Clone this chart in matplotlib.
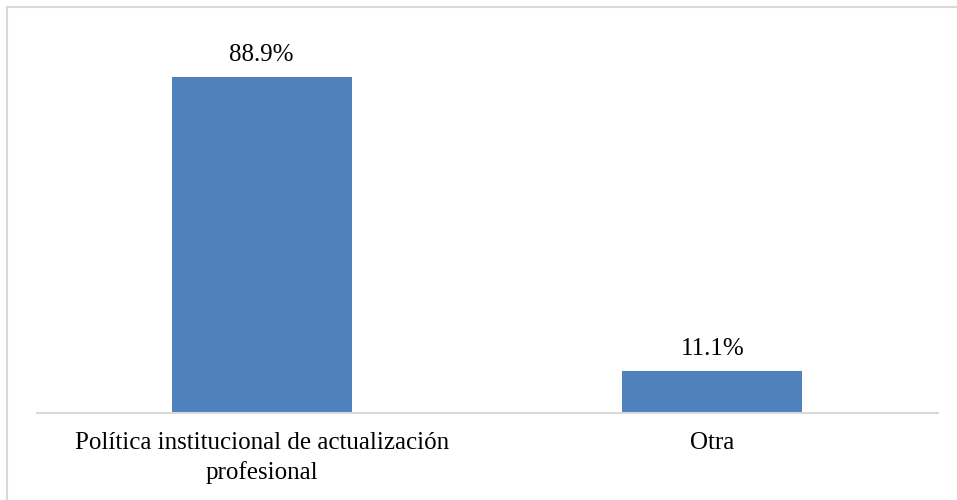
import matplotlib
matplotlib.use("Agg")
import matplotlib.pyplot as plt
from matplotlib.patches import Rectangle

categories = ["Política institucional de actualización\nprofesional", "Otra"]
values = [88.9, 11.1]
value_labels = ["88.9%", "11.1%"]

W, H = 957, 500
fig = plt.figure(figsize=(W / 100, H / 100), dpi=100)
plt.rcParams['font.family'] = ['Liberation Serif', 'DejaVu Serif']

# outer chart border (cropped at right/bottom like the reference)
fig.patches.append(Rectangle((7 / W, -0.1), 2.0, (H - 6.5) / H + 0.1, transform=fig.transFigure,
                             fill=False, edgecolor="#D9D9D9", linewidth=1.5))

left, right, bottom, top = 36.5, 937.5, 413, 35.4
ax = fig.add_axes([left / W, 1 - bottom / H, (right - left) / W, (bottom - top) / H])
x = range(len(categories))
ax.bar(x, values, width=0.4, color="#4F81BD")
ax.set_xlim(-0.5, 1.5)
ax.set_ylim(0, 100)
for xi, v, lab in zip(x, values, value_labels):
    ax.annotate(lab, (xi, v), xytext=(0, 11.5), textcoords="offset points",
                ha="center", va="baseline", fontsize=18, color="#000000")
ax.set_xticks(list(x))
ax.set_xticklabels(categories, fontsize=18, linespacing=1.38)
ax.tick_params(axis="x", length=0, pad=14)
ax.set_yticks([])
for s in ["left", "right", "top"]:
    ax.spines[s].set_visible(False)
ax.spines["bottom"].set_color("#D9D9D9")
ax.spines["bottom"].set_linewidth(1.5)
ax.patch.set_alpha(0)

fig.savefig("out.png", dpi=100)
